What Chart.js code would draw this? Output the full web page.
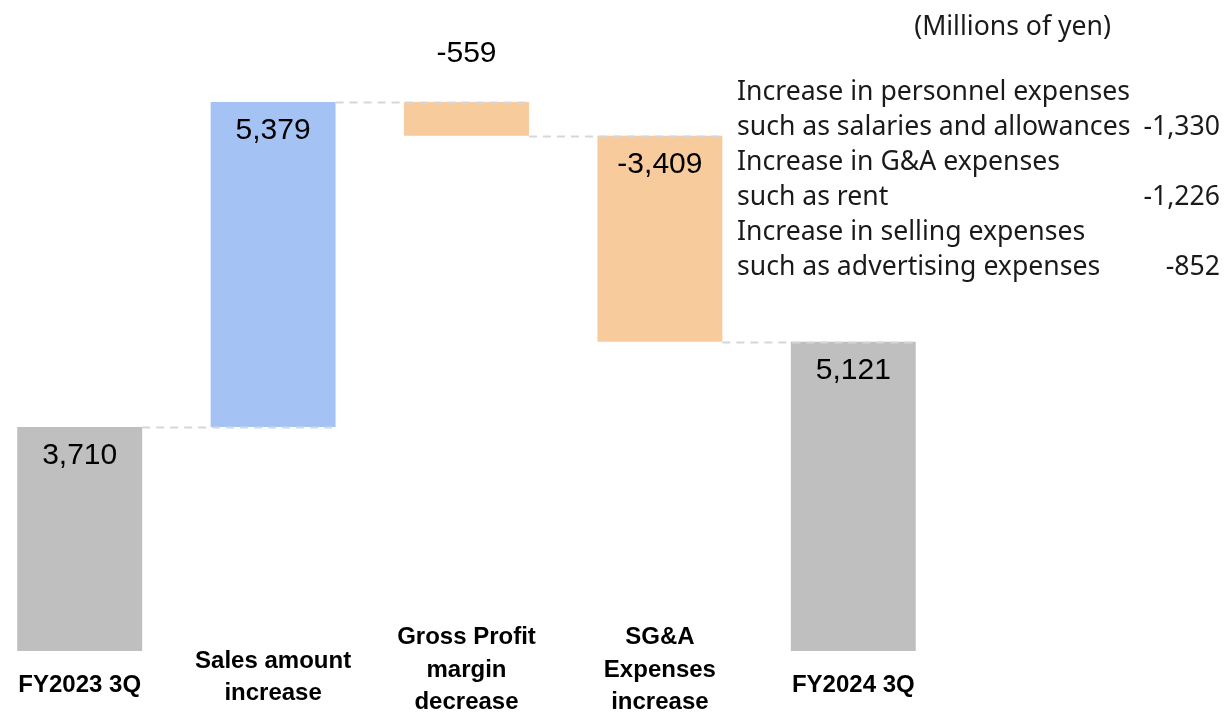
<!DOCTYPE html>
<html>
<head>
  <meta charset="utf-8">
  <script src="https://cdn.jsdelivr.net/npm/chart.js"></script>
  <style>
    body { margin: 0; background: #fff; overflow: hidden; }
    #wrap { position: relative; width: 1228px; height: 712px; overflow: hidden; }
    #chart { position: absolute; left: -17px; top: 0; }
  </style>
</head>
<body>
  <div id="wrap">
    <canvas id="chart" width="1245" height="712"></canvas>
  </div>
  <script>
    // waterfall data (millions of yen)
    const categories = [
      ['FY2023 3Q'],
      ['Sales amount', 'increase'],
      ['Gross Profit', 'margin', 'decrease'],
      ['SG&A', 'Expenses', 'increase'],
      ['FY2024 3Q']
    ];
    const startValue = 3710;
    const changes = [5379, -559, -3409];
    const endValue = 5121;

    const breakdownLabels = [
      ['Increase in personnel expenses', 'such as salaries and allowances'],
      ['Increase in G&A expenses', 'such as rent'],
      ['Increase in selling expenses', 'such as advertising expenses']
    ];
    const breakdownValues = [-1330, -1226, -852];
    const unitNote = '(Millions of yen)';

    const GRAY = '#bfbfbf', BLUE = '#a4c2f4', ORANGE = '#f8cb9d';
    const OFFX = 17; // canvas is shifted left by this much

    // build floating bars
    const bars = [[0, startValue]];
    const shown = [startValue];
    const colors = [GRAY];
    const levels = [startValue];
    let run = startValue;
    changes.forEach(c => {
      const next = run + c;
      bars.push([Math.min(run, next), Math.max(run, next)]);
      shown.push(c);
      colors.push(c >= 0 ? BLUE : ORANGE);
      run = next;
      levels.push(run);
    });
    bars.push([0, endValue]);
    shown.push(endValue);
    colors.push(GRAY);

    const fmt = v => v.toLocaleString('en-US');

    const waterfallPlugin = {
      id: 'waterfall',
      afterDatasetsDraw(chart) {
        const ctx = chart.ctx;
        const meta = chart.getDatasetMeta(0);
        const y = chart.scales.y;

        // dashed connectors
        ctx.save();
        ctx.strokeStyle = '#d3d7dd';
        ctx.lineWidth = 2;
        ctx.setLineDash([8, 6]);
        for (let i = 0; i < meta.data.length - 1; i++) {
          const a = meta.data[i], b = meta.data[i + 1];
          const py = Math.round(y.getPixelForValue(levels[i])) + 0.5;
          ctx.beginPath();
          ctx.moveTo(a.x + a.width / 2, py);
          ctx.lineTo(b.x + b.width / 2, py);
          ctx.stroke();
        }
        ctx.restore();

        // value labels
        ctx.save();
        ctx.fillStyle = '#000';
        ctx.font = '30px "Liberation Sans", Arial, sans-serif';
        ctx.textAlign = 'center';
        ctx.textBaseline = 'middle';
        meta.data.forEach((bar, i) => {
          const top = Math.min(bar.y, bar.base);
          const h = Math.abs(bar.base - bar.y);
          const ly = h < 60 ? top - 48 : top + 29;
          ctx.fillText(fmt(shown[i]), bar.x, ly);
        });
        ctx.restore();
      },
      afterDraw(chart) {
        const ctx = chart.ctx;
        const x = chart.scales.x;

        // category labels
        ctx.save();
        ctx.fillStyle = '#000';
        ctx.font = 'bold 24px "Liberation Sans", Arial, sans-serif';
        ctx.textAlign = 'center';
        ctx.textBaseline = 'middle';
        const lh = 32.5;
        categories.forEach((lines, i) => {
          const cx = x.getPixelForValue(i);
          const n = lines.length;
          const mid = 670 + (3 - n) * 7.5;
          lines.forEach((t, k) => {
            ctx.fillText(t, cx, mid + (k - (n - 1) / 2) * lh);
          });
        });
        ctx.restore();

        // unit note and breakdown text
        ctx.save();
        ctx.fillStyle = '#1a1a1a';
        ctx.font = '26.6px "Noto Sans", sans-serif';
        ctx.textBaseline = 'alphabetic';
        ctx.textAlign = 'right';
        ctx.fillText(unitNote, 1111 + OFFX, 35);
        let row = 0;
        breakdownLabels.forEach((pair, i) => {
          ctx.textAlign = 'left';
          pair.forEach(t => {
            ctx.fillText(t, 737 + OFFX, 100 + row * 34.9);
            row++;
          });
          ctx.textAlign = 'right';
          ctx.fillText(fmt(breakdownValues[i]), 1220 + OFFX, 100 + (row - 1) * 34.9);
        });
        ctx.restore();
      }
    };

    new Chart(document.getElementById('chart'), {
      type: 'bar',
      data: {
        labels: categories.map(l => l.join(' ')),
        datasets: [{
          data: bars,
          backgroundColor: colors,
          borderWidth: 0,
          categoryPercentage: 1,
          barPercentage: 0.646
        }]
      },
      options: {
        responsive: false,
        animation: false,
        devicePixelRatio: 1,
        layout: { padding: { left: 0, right: 278, top: 47, bottom: 61 } },
        plugins: { legend: { display: false }, tooltip: { enabled: false } },
        scales: {
          x: { display: false },
          y: { display: false, min: 0, max: 10000 }
        }
      },
      plugins: [waterfallPlugin]
    });
  </script>
</body>
</html>
